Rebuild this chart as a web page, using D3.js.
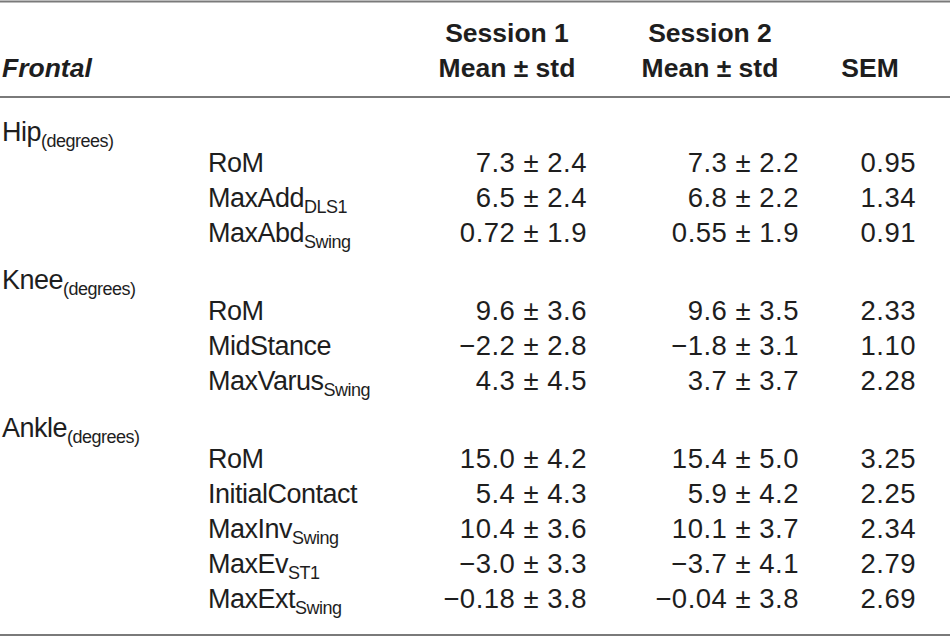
<!DOCTYPE html>
<html>
<head>
<meta charset="utf-8">
<script src="https://cdn.jsdelivr.net/npm/d3@7"></script>
<style>
  html, body { margin: 0; padding: 0; background: #fff; }
  svg { display: block; font-family: "Liberation Sans", Arial, Helvetica, sans-serif; }
</style>
</head>
<body>
<svg></svg>
<script>
const width = 950;
const height = 637;

// -----------------------------
// DATA
// -----------------------------
const groups = ["Hip", "Knee", "Ankle"];
const groupUnit = "(degrees)";

const measureGroup = ["Hip", "Hip", "Hip", "Knee", "Knee", "Knee", "Ankle", "Ankle", "Ankle", "Ankle", "Ankle"];
const measureNames = ["RoM", "MaxAdd", "MaxAbd", "RoM", "MidStance", "MaxVarus", "RoM", "InitialContact", "MaxInv", "MaxEv", "MaxExt"];
const measureSubs = ["", "DLS1", "Swing", "", "", "Swing", "", "", "Swing", "ST1", "Swing"];

const session1Mean = ["7.3", "6.5", "0.72", "9.6", "\u22122.2", "4.3", "15.0", "5.4", "10.4", "\u22123.0", "\u22120.18"];
const session1Std = ["2.4", "2.4", "1.9", "3.6", "2.8", "4.5", "4.2", "4.3", "3.6", "3.3", "3.8"];
const session2Mean = ["7.3", "6.8", "0.55", "9.6", "\u22121.8", "3.7", "15.4", "5.9", "10.1", "\u22123.7", "\u22120.04"];
const session2Std = ["2.2", "2.2", "1.9", "3.5", "3.1", "3.7", "5.0", "4.2", "3.7", "4.1", "3.8"];
const sem = ["0.95", "1.34", "0.91", "2.33", "1.10", "2.28", "3.25", "2.25", "2.34", "2.79", "2.69"];

const headerTop = ["", "Session 1", "Session 2", ""];
const headerBottom = ["Frontal", "Mean \u00b1 std", "Mean \u00b1 std", "SEM"];

// -----------------------------
// ROWS (group header rows + measure rows)
// -----------------------------
const rows = [];
let k = 0;
groups.forEach((g, gi) => {
  rows.push({ type: "group", label: g, sub: groupUnit, k: k, g: gi });
  measureNames.forEach((m, i) => {
    if (measureGroup[i] !== g) return;
    rows.push({
      type: "measure",
      label: m,
      sub: measureSubs[i],
      s1: `${session1Mean[i]} \u00b1 ${session1Std[i]}`,
      s2: `${session2Mean[i]} \u00b1 ${session2Std[i]}`,
      sem: sem[i],
      k: k++,
      g: gi
    });
  });
});

// -----------------------------
// SCALES
// -----------------------------
// measure baseline by running index, plus a gap per group block
const yMeasure = d3.scaleLinear()
  .domain([0, measureNames.length - 1])
  .range([172, 522]);
const groupGap = 43;
const groupLead = 31.5;

const rowY = d => d.type === "group"
  ? yMeasure(d.k) + d.g * groupGap - groupLead
  : yMeasure(d.k) + d.g * groupGap;

const col = {
  group: 2,
  measure: 208,
  s1: 587,
  s2: 799,
  sem: 916
};
const headCenter = [null, 507, 710, 870];

const ink = "#1e1e1e";
const fs = 27;

const svg = d3.select("svg")
  .attr("width", width)
  .attr("height", height);

// -----------------------------
// RULES
// -----------------------------
svg.append("g")
  .selectAll("line")
  .data([1.5, 97, 635])
  .join("line")
  .attr("x1", 0)
  .attr("x2", width)
  .attr("y1", d => d)
  .attr("y2", d => d)
  .attr("stroke", "#7a7a7a")
  .attr("stroke-width", 2.2);

// -----------------------------
// HEADER
// -----------------------------
const head = svg.append("g")
  .attr("fill", ink)
  .attr("font-size", 26.5)
  .attr("font-weight", "bold");

head.selectAll("text.top")
  .data(headerTop)
  .join("text")
  .attr("class", "top")
  .attr("x", (d, i) => headCenter[i])
  .attr("y", 42)
  .attr("text-anchor", "middle")
  .text(d => d);

head.selectAll("text.bottom")
  .data(headerBottom)
  .join("text")
  .attr("class", "bottom")
  .attr("x", (d, i) => i === 0 ? col.group : headCenter[i])
  .attr("y", 77)
  .attr("text-anchor", (d, i) => i === 0 ? "start" : "middle")
  .attr("font-style", (d, i) => i === 0 ? "italic" : null)
  .text(d => d);

// -----------------------------
// BODY
// -----------------------------
const body = svg.append("g")
  .attr("fill", ink)
  .attr("font-size", fs);

const row = body.selectAll("g")
  .data(rows)
  .join("g")
  .attr("transform", d => `translate(0, ${rowY(d)})`);

const label = row.append("text")
  .attr("x", d => d.type === "group" ? col.group : col.measure)
  .attr("y", 0)
  .attr("letter-spacing", -0.5);

label.append("tspan").text(d => d.label);
label.filter(d => d.sub)
  .append("tspan")
  .attr("font-size", 18)
  .attr("dy", 6)
  .text(d => d.sub);

const measureRow = row.filter(d => d.type === "measure");

const numCols = [["s1", col.s1], ["s2", col.s2], ["sem", col.sem]];
numCols.forEach(([key, x]) => {
  measureRow.append("text")
    .attr("x", x)
    .attr("text-anchor", "end")
    .attr("font-size", 27.5)
    .attr("letter-spacing", 0.5)
    .text(d => d[key]);
});
</script>
</body>
</html>
